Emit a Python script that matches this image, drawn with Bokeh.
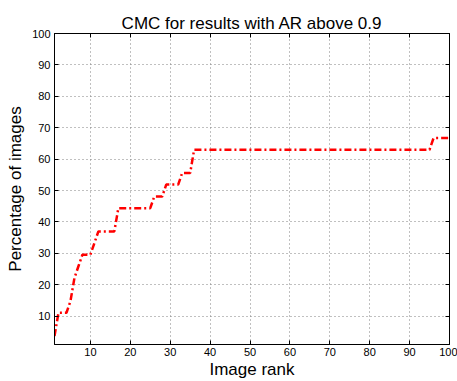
from bokeh.plotting import figure
from bokeh.models import LinearAxis, FixedTicker, Range1d
from bokeh.embed import file_html
from bokeh.resources import INLINE

# CMC curve (breakpoints of the rank -> percentage curve)
rank = [1, 2, 4, 5, 6, 7, 8, 10, 11, 12, 16, 17, 25, 26, 28, 29, 32, 33, 35, 36, 95, 96, 100]
pct = [3.7, 11.1, 11.1, 14.8, 22.2, 25.9, 29.6, 29.6, 33.3, 37.0, 37.0, 44.4, 44.4,
       48.1, 48.1, 51.9, 51.9, 55.6, 55.6, 63.0, 63.0, 66.7, 66.7]

x_ticks = [10, 20, 30, 40, 50, 60, 70, 80, 90, 100]
y_ticks = [10, 20, 30, 40, 50, 60, 70, 80, 90, 100]

FONT = "Liberation Sans"

p = figure(width=457, height=381, output_backend="svg", toolbar_location=None,
           x_range=Range1d(1, 100), y_range=Range1d(1, 100),
           min_border_left=54, min_border_right=8, min_border_top=33, min_border_bottom=36,
           title="CMC for results with AR above 0.9")

p.title.align = "center"
p.title.text_font = FONT
p.title.text_font_size = "17px"
p.title.text_font_style = "normal"
p.title.text_color = "black"
p.title.standoff = 2

p.background_fill_color = "white"
p.border_fill_color = "white"
p.outline_line_color = "black"

for ax in (p.xaxis[0], p.yaxis[0]):
    ax.major_label_text_font = FONT
    ax.major_label_text_font_size = "11px"
    ax.major_label_text_color = "black"
    ax.axis_label_text_font = FONT
    ax.axis_label_text_font_size = "17px"
    ax.axis_label_text_font_style = "normal"
    ax.axis_label_text_color = "black"
    ax.major_tick_in = 4
    ax.major_tick_out = 0
    ax.minor_tick_in = 0
    ax.minor_tick_out = 0
    ax.axis_line_color = "black"
    ax.major_tick_line_color = "black"

p.xaxis[0].ticker = FixedTicker(ticks=x_ticks)
p.yaxis[0].ticker = FixedTicker(ticks=y_ticks)
p.xaxis[0].axis_label = "Image rank"
p.yaxis[0].axis_label = "Percentage of images"
p.xaxis[0].major_label_standoff = 3
p.xaxis[0].axis_label_standoff = 1
p.yaxis[0].major_label_standoff = 4
p.yaxis[0].axis_label_standoff = 4

# box axes on top and right: tick marks only (minor ticks, so no labels)
top = LinearAxis(ticker=FixedTicker(ticks=[], minor_ticks=x_ticks))
right = LinearAxis(ticker=FixedTicker(ticks=[], minor_ticks=y_ticks))
for ax in (top, right):
    ax.major_label_standoff = 0
    ax.major_tick_in = 0
    ax.major_tick_out = 0
    ax.minor_tick_in = 4
    ax.minor_tick_out = 0
    ax.axis_line_color = "black"
    ax.minor_tick_line_color = "black"
p.add_layout(top, "above")
p.add_layout(right, "right")

p.xgrid.ticker = FixedTicker(ticks=x_ticks)
p.ygrid.ticker = FixedTicker(ticks=y_ticks)
p.grid.grid_line_color = "#808080"
p.grid.grid_line_dash = "1 3"
p.grid.grid_line_width = 1

p.line(rank, pct, line_color="#ff0000", line_width=2.5, line_dash="7 3 2 3")

open("out.html", "w").write(file_html(p, INLINE))
